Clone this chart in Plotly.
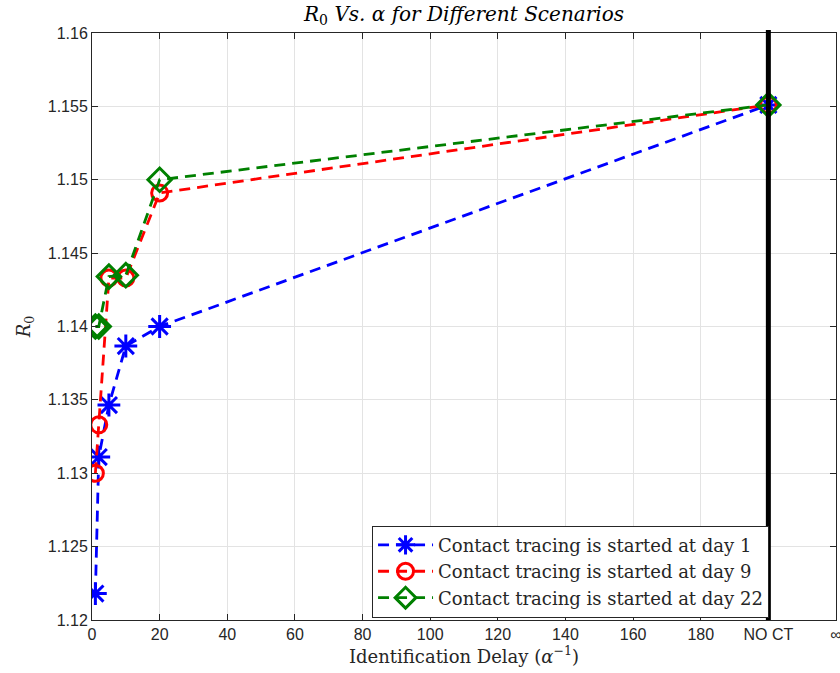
import plotly.graph_objects as go

# Data
x_day1 = [1, 2, 5, 10, 20, 200]
r0_day1 = [1.1218, 1.1311, 1.13465, 1.13867, 1.1400, 1.1551]
x_day9 = [1, 2, 5, 10, 20, 200]
r0_day9 = [1.1300, 1.1333, 1.1433, 1.1433, 1.1491, 1.1551]
x_day22 = [1, 2, 5, 10, 20, 200]
r0_day22 = [1.1400, 1.1400, 1.1434, 1.1435, 1.1500, 1.1551]

names = ["Contact tracing is started at day 1",
         "Contact tracing is started at day 9",
         "Contact tracing is started at day 22"]
tick_vals = [0, 20, 40, 60, 80, 100, 120, 140, 160, 180, 200, 220]
tick_text = ["0", "20", "40", "60", "80", "100", "120", "140", "160", "180", "NO CT", "∞"]
no_ct_x = 200

SERIF = "DejaVu Serif"
SANS = "Liberation Sans"
DASH = "11px,7px"

fig = go.Figure()
fig.add_trace(go.Scatter(x=x_day1, y=r0_day1, name=names[0], mode="lines+markers",
                         line=dict(color="#0000ff", width=2.8, dash=DASH),
                         marker=dict(symbol="asterisk-open", size=19, line=dict(color="#0000ff", width=3))))
fig.add_trace(go.Scatter(x=x_day9, y=r0_day9, name=names[1], mode="lines+markers",
                         line=dict(color="#ff0000", width=2.8, dash=DASH),
                         marker=dict(symbol="circle-open", size=16, color="#ff0000", line=dict(color="#ff0000", width=3))))
fig.add_trace(go.Scatter(x=x_day22, y=r0_day22, name=names[2], mode="lines+markers",
                         line=dict(color="#008000", width=2.8, dash=DASH),
                         marker=dict(symbol="diamond-open", size=18, color="#008000", line=dict(color="#008000", width=3))))

fig.add_shape(type="line", xref="x", yref="paper", x0=no_ct_x, x1=no_ct_x, y0=0, y1=1.005,
              line=dict(color="black", width=5))

axis_common = dict(showgrid=True, gridcolor="#e3e3e3", gridwidth=1, zeroline=False,
                   showline=True, linecolor="#262626", linewidth=1, mirror="ticks",
                   ticks="inside", ticklen=6, tickcolor="#262626", automargin=False,
                   tickfont=dict(family=SANS, size=16, color="#262626"))

fig.update_xaxes(range=[0, 220], tickvals=tick_vals, ticktext=tick_text,
                 ticklabeloverflow="allow",
                 title=dict(text="Identification Delay (<i>α</i><sup>−1</sup>)",
                            font=dict(family=SERIF, size=18, color="#262626"),
                            standoff=4),
                 **axis_common)
fig.update_yaxes(range=[1.12, 1.16], dtick=0.005, tickformat="~g",
                 title=dict(text="<i>R</i><sub>0</sub>",
                            font=dict(family=SERIF, size=18, color="#262626"),
                            standoff=12),
                 **axis_common)

fig.update_layout(
    width=840, height=673,
    margin=dict(l=92, r=4, t=33, b=53, autoexpand=False),
    paper_bgcolor="white", plot_bgcolor="white",
    title=dict(text="<i>R</i><sub>0</sub> <i>Vs. α for Different Scenarios</i>",
               x=(92 + 836) / 2 / 840, xanchor="center", y=0.99, yanchor="top",
               font=dict(family=SERIF, size=20, color="black")),
    legend=dict(x=0.91, xanchor="right", y=0.004, yanchor="bottom",
                bgcolor="white", bordercolor="#262626", borderwidth=1,
                font=dict(family=SERIF, size=18, color="#262626"),
                tracegroupgap=0, itemwidth=55),
    showlegend=True,
)

fig.write_html("out.html")
